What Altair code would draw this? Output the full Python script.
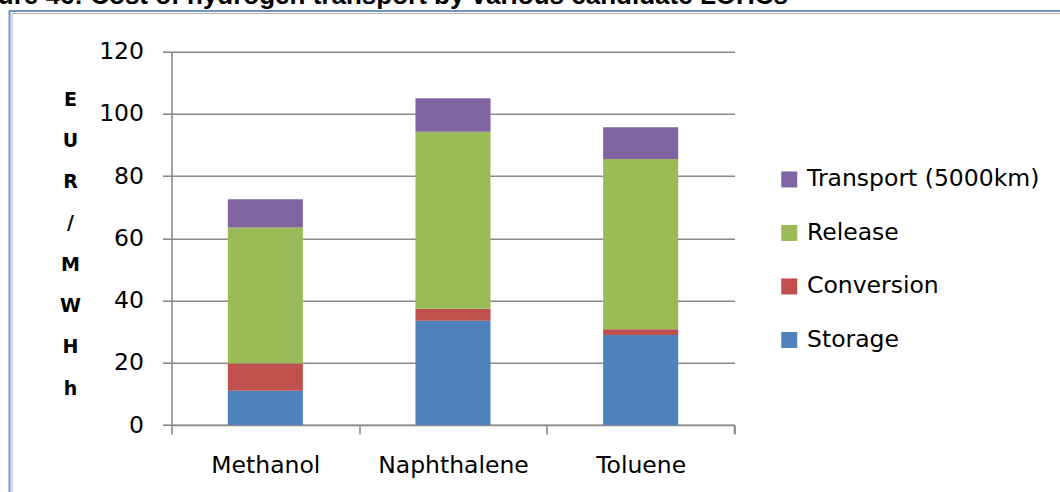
import altair as alt
import pandas as pd

# Cost components per LOHC carrier (EUR/MWh)
carriers = ["Methanol", "Naphthalene", "Toluene"]
components = ["Storage", "Conversion", "Release", "Transport (5000km)"]
storage = [11.0, 33.5, 28.9]
conversion = [8.8, 3.9, 1.9]
release = [43.7, 56.9, 54.7]
transport = [9.1, 10.7, 10.2]

colors = {
    "Storage": "#4f81bd",
    "Conversion": "#c0504d",
    "Release": "#9bbb59",
    "Transport (5000km)": "#8064a2",
}

y_title = ["E", "U", "R", "/", "M", "W", "H", "h"]
fig_title = "Figure 46: Cost of hydrogen transport by various candidate LOHCs"

rows = []
for i, c in enumerate(carriers):
    for k, (name, vals) in enumerate(zip(components, [storage, conversion, release, transport])):
        rows.append({"carrier": c, "component": name, "value": vals[i], "stack_order": k})
df = pd.DataFrame(rows)

# plot area geometry (pixels)
W, H = 563, 373.3
PAD_L, PAD_T = 171.5, 51.7
PAD_R, PAD_B = 1060 - PAD_L - W, 492 - PAD_T - H

FONT = "DejaVu Sans"
FS = 23.5
GRID = "#8a8a8a"

legend_order = ["Transport (5000km)", "Release", "Conversion", "Storage"]

bars = alt.Chart(df).mark_bar(width={"band": 0.4}).encode(
    x=alt.X(
        "carrier:N",
        sort=carriers,
        scale=alt.Scale(paddingInner=0, paddingOuter=0),
        axis=alt.Axis(
            title=None,
            labelAngle=0,
            labelFont=FONT,
            labelFontSize=FS,
            labelColor="#000000",
            labelPadding=19,
            tickBand="extent",
            tickSize=9,
            tickColor=GRID,
            tickWidth=1.6,
            domainColor=GRID,
            domainWidth=1.6,
            grid=False,
        ),
    ),
    y=alt.Y(
        "value:Q",
        stack="zero",
        scale=alt.Scale(domain=[0, 120], nice=False),
        axis=alt.Axis(
            values=[0, 20, 40, 60, 80, 100, 120],
            title=y_title,
            titleAngle=0,
            titleFont=FONT,
            titleFontSize=19,
            titleFontWeight="bold",
            titleColor="#000000",
            titleLineHeight=41.3,
            titleAlign="center",
            titleBaseline="alphabetic",
            titleX=-101.5,
            titleY=53.3,
            labelFont=FONT,
            labelFontSize=FS,
            labelColor="#000000",
            labelPadding=19,
            tickSize=9,
            tickColor=GRID,
            tickWidth=1.6,
            domainColor=GRID,
            domainWidth=1.6,
            grid=True,
            gridColor=GRID,
            gridWidth=1.6,
        ),
    ),
    color=alt.Color(
        "component:N",
        scale=alt.Scale(domain=legend_order, range=[colors[k] for k in legend_order]),
        legend=alt.Legend(
            title=None,
            orient="none",
            legendX=606,
            legendY=116,
            padding=0,
            symbolType="square",
            symbolSize=256,
            symbolStrokeWidth=0,
            symbolOpacity=1,
            labelFont=FONT,
            labelFontSize=FS,
            labelColor="#000000",
            labelOffset=6,
            rowPadding=28.5,
            labelLimit=400,
        ),
    ),
    order=alt.Order("stack_order:Q", sort="ascending"),
)

# closing tick at the right end of the category axis
end_tick = alt.Chart(pd.DataFrame({"v": [0]})).mark_rule(
    color=GRID, strokeWidth=1.6
).encode(x=alt.value(W), y=alt.value(H), y2=alt.value(H + 9))

# figure frame: blue outer line with grey inner line
frame = alt.Chart(pd.DataFrame({"v": [0]})).mark_rect(
    fill=None, stroke="#6f95cb", strokeWidth=2
).encode(
    x=alt.value(9.5 - PAD_L),
    y=alt.value(11 - PAD_T),
    x2=alt.value(1100 - PAD_L),
    y2=alt.value(540 - PAD_T),
)
frame_inner = alt.Chart(pd.DataFrame({"v": [0]})).mark_rect(
    fill=None, stroke="#b0b0b0", strokeWidth=1
).encode(
    x=alt.value(12 - PAD_L),
    y=alt.value(13.5 - PAD_T),
    x2=alt.value(1100 - PAD_L),
    y2=alt.value(540 - PAD_T),
)

# caption line above the frame (runs past the top-left corner of the view)
caption = alt.Chart(pd.DataFrame({"t": [fig_title]})).mark_text(
    align="right",
    baseline="alphabetic",
    font="Liberation Sans",
    fontWeight="bold",
    fontSize=26,
    color="#000000",
).encode(text="t:N", x=alt.value(788 - PAD_L), y=alt.value(4 - PAD_T))

chart = alt.layer(frame, frame_inner, bars, end_tick, caption).properties(
    width=W,
    height=H,
    autosize=alt.AutoSizeParams(type="none"),
    padding={"left": PAD_L, "top": PAD_T, "right": PAD_R, "bottom": PAD_B},
    background="#ffffff",
).configure_view(stroke=None)

chart.save("out.html", embed_options={"renderer": "svg", "actions": False})
